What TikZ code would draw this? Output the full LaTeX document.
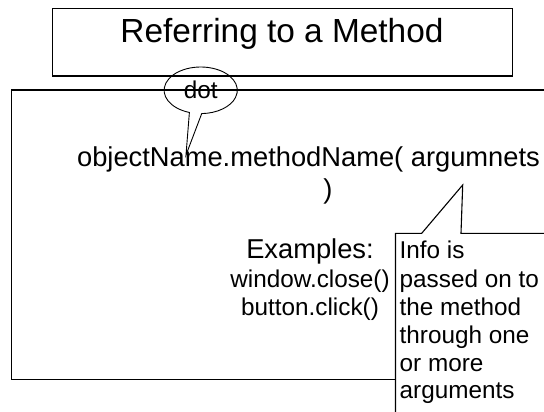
\documentclass[tikz,border=0pt]{standalone}
\usepackage{fontspec}
\setmainfont{Liberation Sans}
\usetikzlibrary{calc}
\tikzset{
  boxline/.style={draw=black, line width=1.3pt},
  thinline/.style={draw=black, line width=0.9pt},
  titletext/.style={inner sep=0pt, anchor=base, font=\fontsize{33.4}{40}\selectfont},
  maintext/.style={inner sep=0pt, anchor=base, font=\fontsize{27.3}{32}\selectfont},
  smalltext/.style={inner sep=0pt, anchor=base, font=\fontsize{24.3}{28}\selectfont},
  infotext/.style={inner sep=0pt, anchor=base west, font=\fontsize{24.3}{28}\selectfont},
}
\begin{document}
\begin{tikzpicture}[x=1pt,y=-1pt]
\useasboundingbox (0,0) rectangle (544,412);
\fill[white] (0,0) rectangle (544,412);

% title box
\node[boxline, minimum width=460pt, minimum height=67.5pt, inner sep=0pt, anchor=north west] (titlebox) at (52,8) {};
\node[titletext] (title) at (282,43) {Referring to a Method};

% main box
\node[boxline, minimum width=700pt, minimum height=289pt, inner sep=0pt, anchor=north west] (mainbox) at (11,89.5) {};

% dot callout (ellipse with pointer)
\coordinate (dotc) at (200.7,90.3);
\coordinate (dottip) at (186,155);
\draw[thinline] ($(dotc)+(108:36.6 and 23.3)$)
  arc[start angle=108, end angle=448.4, x radius=36.6, y radius=23.3]
  -- (dottip) -- cycle;
\node[smalltext] (dot) at (200.7,99) {dot};

% info callout (rectangle with pointer)
\coordinate (infotip) at (462.7,185);
\draw[boxline, line width=1.1pt, fill=white, line join=miter]
  (395.5,440) -- (395.5,233.3) -- (421.7,233.3) -- (infotip) -- (461,233.3)
  -- (620,233.3) -- (620,440) -- cycle;

% main texts
\node[maintext] (call) at (308.5,166) {objectName.methodName( argumnets};
\node[maintext] (paren) at (328,198) {)};

\node[maintext] (examples) at (310,258) {Examples:};
\node[smalltext] (ex1) at (310,287) {window.close()};
\node[smalltext] (ex2) at (310,315) {button.click()};

\node[infotext] (info1) at (399.5,258) {Info is};
\node[infotext] (info2) at (399.5,287) {passed on to};
\node[infotext] (info3) at (399.5,315) {the method};
\node[infotext] (info4) at (399.5,343) {through one};
\node[infotext] (info5) at (399.5,371) {or more};
\node[infotext] (info6) at (399.5,398) {arguments};
\end{tikzpicture}
\end{document}
